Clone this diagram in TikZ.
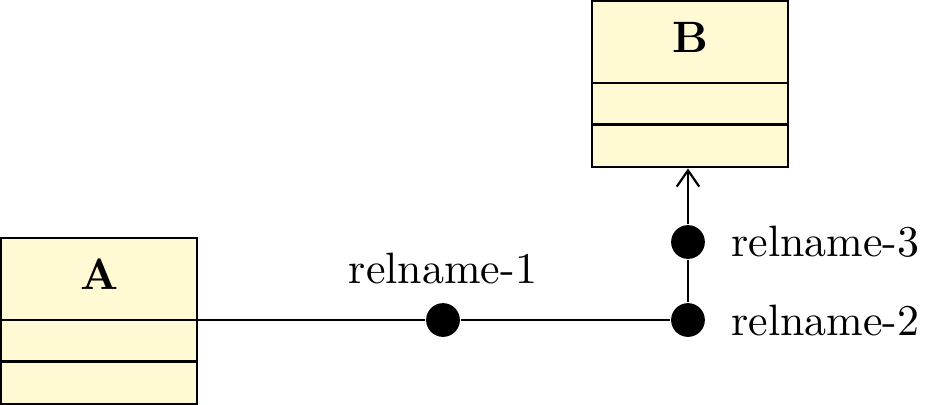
\documentclass[tikz,border=0pt]{standalone}
\usepackage{tikz}
\usetikzlibrary{arrows.meta,positioning,calc}
\definecolor{classfill}{HTML}{FFF9D4}

\begin{document}
\begin{tikzpicture}[
        line width=0.5pt,
        classbox/.style={draw, fill=classfill, minimum width=1.568cm, minimum height=1.33cm, inner sep=0pt},
        relnode/.style={circle, fill=black, inner sep=0pt, minimum size=0.27cm},
        rellabel/.style={font=\normalsize, inner sep=1pt},
    ]
    \useasboundingbox (0,0) rectangle (7.616,-3.232);

    % === Classes ===
    \node[classbox, anchor=north west] (A) at (0,-1.896) {};
    \node[classbox, anchor=north west] (B) at (4.728,0) {};
    \foreach \cls in {A,B} {
        \draw ($(\cls.north west)+(0,-0.664)$) -- ($(\cls.north east)+(0,-0.664)$);
        \draw ($(\cls.north west)+(0,-0.996)$) -- ($(\cls.north east)+(0,-0.996)$);
        \node[font=\bfseries] (\cls title) at ($(\cls.north)+(0,-0.3)$) {\cls};
    }

    % === Relation points ===
    \coordinate (Aport) at ($(A.north east)+(0,-0.664)$);
    \node[relnode] (r1) at (3.544,-2.56) {};
    \node[relnode] (r2) at (5.504,-2.56) {};
    \node[relnode] (r3) at (5.504,-1.936) {};

    % Connector
    \draw (Aport) -- (r1) -- (r2) -- (r3);
    \draw[-{Straight Barb[length=1.3mm,width=1.8mm]}] (r3) -- (r3 |- B.south);

    % Labels
    \node[rellabel, above=0.1cm of r1] (l1) {relname-1};
    \node[rellabel, right=0.16cm of r2] (l2) {relname-2};
    \node[rellabel, right=0.16cm of r3] (l3) {relname-3};

\end{tikzpicture}
\end{document}
